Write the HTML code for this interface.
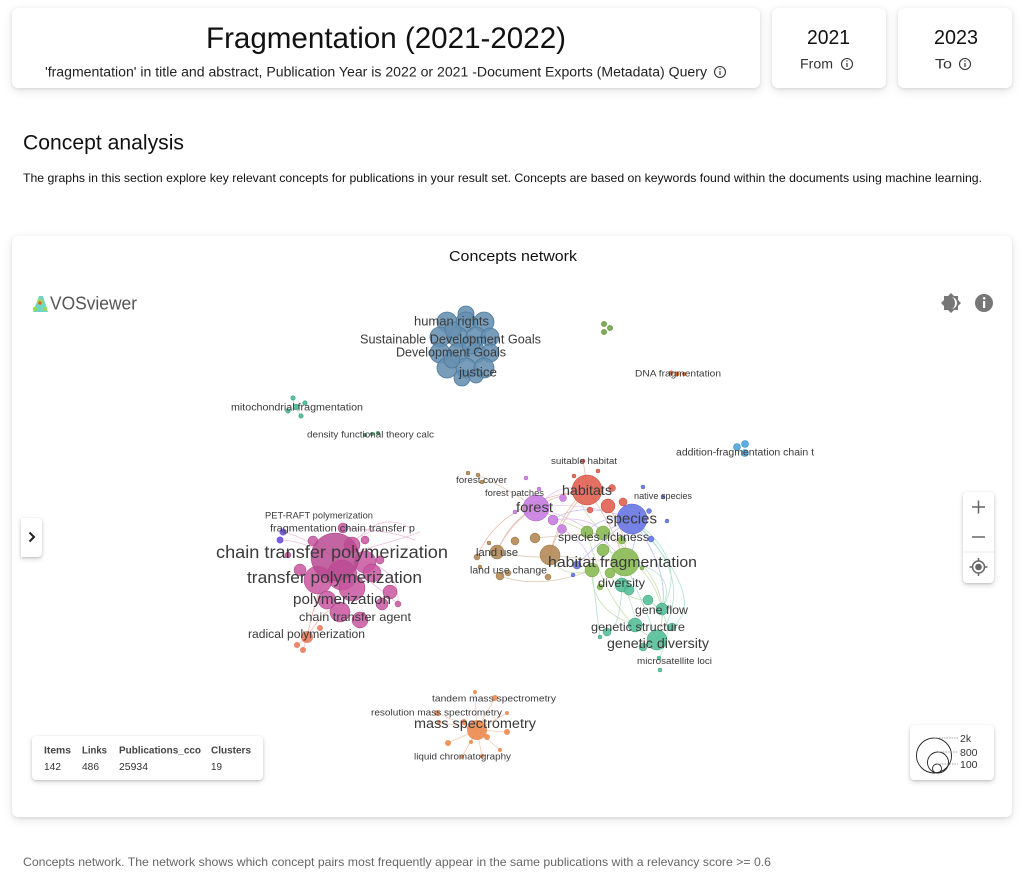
<!DOCTYPE html>
<html><head><meta charset="utf-8">
<style>
html,body{margin:0;padding:0;background:#fff;}
body{width:1024px;height:875px;position:relative;overflow:hidden;font-family:"Liberation Sans",Arial,sans-serif;}
.card{position:absolute;background:#fff;border-radius:6px;box-shadow:0 1px 3px rgba(0,0,0,0.10),0 3px 10px rgba(0,0,0,0.10);}
.box{position:absolute;background:#fff;border-radius:4px;box-shadow:0 1px 2px rgba(0,0,0,0.15),0 2px 6px rgba(0,0,0,0.15);}
svg{position:absolute;left:0;top:0;}
</style></head><body>
<div class="card" style="left:12px;top:8px;width:748px;height:80px;"></div>
<div class="card" style="left:772px;top:8px;width:114px;height:80px;"></div>
<div class="card" style="left:898px;top:8px;width:114px;height:80px;"></div>
<div class="card" style="left:12px;top:236px;width:1000px;height:581px;"></div>
<div class="box" style="left:21px;top:518px;width:21px;height:39px;border-radius:0 4px 4px 0;"></div>
<div class="box" style="left:963px;top:492px;width:31px;height:91px;"></div>
<div class="box" style="left:910px;top:725px;width:84px;height:55px;"></div>
<div class="box" style="left:32px;top:736px;width:231px;height:44px;"></div>

<svg width="1024" height="875" viewBox="0 0 1024 875" xmlns="http://www.w3.org/2000/svg" font-family="Liberation Sans, Arial, sans-serif">
<!-- Header text -->
<text x="206" y="48" font-size="30" fill="#111" textLength="360" lengthAdjust="spacingAndGlyphs">Fragmentation (2021-2022)</text>
<text x="45" y="76.5" font-size="13.5" fill="#222" textLength="662" lengthAdjust="spacingAndGlyphs">'fragmentation' in title and abstract, Publication Year is 2022 or 2021  -Document Exports (Metadata) Query</text>
<g stroke="#333" fill="none" stroke-width="1.1"><circle cx="720" cy="72" r="5.5"/><circle cx="847" cy="64" r="5.5"/><circle cx="965" cy="64" r="5.5"/></g>
<g stroke="#333" stroke-width="1.2"><line x1="720" y1="71" x2="720" y2="75"/><line x1="847" y1="63" x2="847" y2="67"/><line x1="965" y1="63" x2="965" y2="67"/></g>
<g fill="#333"><circle cx="720" cy="69" r="0.7"/><circle cx="847" cy="61" r="0.7"/><circle cx="965" cy="61" r="0.7"/></g>
<text x="807" y="44" font-size="20" fill="#111" textLength="43" lengthAdjust="spacingAndGlyphs">2021</text>
<text x="800" y="68.5" font-size="13.5" fill="#333" textLength="33" lengthAdjust="spacingAndGlyphs">From</text>
<text x="934" y="44" font-size="20" fill="#111" textLength="44" lengthAdjust="spacingAndGlyphs">2023</text>
<text x="935" y="68.5" font-size="13.5" fill="#333" textLength="17" lengthAdjust="spacingAndGlyphs">To</text>

<text x="23" y="149.5" font-size="21" fill="#111" textLength="161" lengthAdjust="spacingAndGlyphs">Concept analysis</text>
<text x="23" y="182" font-size="12" fill="#111" textLength="959" lengthAdjust="spacingAndGlyphs">The graphs in this section explore key relevant concepts for publications in your result set. Concepts are based on keywords found within the documents using machine learning.</text>

<text x="449" y="261" font-size="15" fill="#111" textLength="128" lengthAdjust="spacingAndGlyphs">Concepts network</text>

<!-- VOSviewer logo -->
<g>
<path d="M33,312 L39,296 L43,296 L48,312 Z" fill="#5fd0c0" opacity="0.9"/>
<circle cx="40" cy="302" r="3" fill="#a8d84a"/>
<circle cx="40" cy="303" r="1.6" fill="#e05a30"/>
<circle cx="35" cy="309" r="2.2" fill="#9ad850"/>
<circle cx="45" cy="309" r="2" fill="#9ad850"/>
</g>
<text x="50" y="309.5" font-size="18" fill="#555" textLength="87" lengthAdjust="spacingAndGlyphs">VOSviewer</text>

<!-- top right icons -->
<g fill="#777">
<polygon points="951,293 954,296 958,296 958,300 961,303 958,306 958,310 954,310 951,313 948,310 944,310 944,306 941,303 944,300 944,296 948,296"/>
</g>
<path d="M951,297 A6,6 0 0 1 951,309 A4,6 0 0 0 951,297 Z" fill="#fff"/>
<circle cx="984" cy="303" r="9" fill="#777"/>
<rect x="983" y="301" width="2.2" height="7" fill="#fff"/>
<circle cx="984.1" cy="298.3" r="1.3" fill="#fff"/>

<!-- chevron -->
<path d="M29.5,532.5 L34,537 L29.5,541.5" stroke="#222" stroke-width="2" fill="none"/>

<!-- zoom controls -->
<g stroke="#666" stroke-width="1.5">
<line x1="972" y1="507" x2="985" y2="507"/><line x1="978.5" y1="500.5" x2="978.5" y2="513.5"/>
<line x1="972" y1="537" x2="985" y2="537"/>
</g>
<line x1="963" y1="552" x2="994" y2="552" stroke="#eee" stroke-width="1"/>
<circle cx="978.5" cy="567" r="6" stroke="#666" stroke-width="1.5" fill="none"/>
<circle cx="978.5" cy="567" r="3.3" fill="#666"/>
<g stroke="#666" stroke-width="1.5"><line x1="978.5" y1="558" x2="978.5" y2="561"/><line x1="978.5" y1="573" x2="978.5" y2="576"/><line x1="969.5" y1="567" x2="972.5" y2="567"/><line x1="984.5" y1="567" x2="987.5" y2="567"/></g>

<!-- size legend -->
<g fill="none" stroke="#222" stroke-width="0.9">
<circle cx="934" cy="755.5" r="17.5"/>
<circle cx="938" cy="762.5" r="10.5"/>
<circle cx="937" cy="768.5" r="4.5"/>
</g>
<g stroke="#888" stroke-width="0.7" stroke-dasharray="1.5,1">
<line x1="934" y1="738" x2="958" y2="738"/>
<line x1="938" y1="752" x2="958" y2="752"/>
<line x1="937" y1="764" x2="958" y2="764"/>
</g>
<g font-size="10.5" fill="#333">
<text x="960" y="742">2k</text>
<text x="960" y="756">800</text>
<text x="960" y="768">100</text>
</g>

<!-- stats box -->
<g font-size="10" fill="#444" font-weight="bold">
<text x="44" y="753.5" textLength="27" lengthAdjust="spacingAndGlyphs">Items</text>
<text x="82" y="753.5" textLength="25" lengthAdjust="spacingAndGlyphs">Links</text>
<text x="119" y="753.5" textLength="82" lengthAdjust="spacingAndGlyphs">Publications_cco</text>
<text x="211" y="753.5" textLength="40" lengthAdjust="spacingAndGlyphs">Clusters</text>
</g>
<g font-size="10.5" fill="#333">
<text x="44" y="770" textLength="17" lengthAdjust="spacingAndGlyphs">142</text>
<text x="82" y="770" textLength="17" lengthAdjust="spacingAndGlyphs">486</text>
<text x="119" y="770" textLength="29" lengthAdjust="spacingAndGlyphs">25934</text>
<text x="211" y="770" textLength="11" lengthAdjust="spacingAndGlyphs">19</text>
</g>

<!-- caption -->
<text x="23" y="866" font-size="12" fill="#666" textLength="748" lengthAdjust="spacingAndGlyphs">Concepts network. The network shows which concept pairs most frequently appear in the same publications with a relevancy score &gt;= 0.6</text>

<!-- EDGES -->
<g fill="none" stroke-width="0.8" opacity="0.45">
<!-- central -->
<g stroke="#8cbc58">
<path d="M603,533 Q680,580 657,640"/><path d="M587,532 Q610,620 657,640"/><path d="M592,570 Q590,610 635,625"/>
<path d="M603,550 Q650,560 662,609"/><path d="M610,573 Q620,600 648,600"/><path d="M587,532 Q560,520 536,508"/>
<path d="M603,533 Q570,500 587,490"/><path d="M592,570 Q560,580 550,555"/>
</g>
<g stroke="#5cc0a0">
<path d="M632,519 Q700,580 657,640"/><path d="M625,562 Q680,570 662,609"/><path d="M632,519 Q690,560 662,609"/>
<path d="M625,562 Q650,620 657,640"/><path d="M603,533 Q640,620 635,625"/><path d="M622,585 Q620,630 607,632"/>
<path d="M632,519 Q710,600 672,627"/><path d="M648,600 Q680,620 659,658"/><path d="M592,570 Q600,640 600,637"/>
</g>
<g stroke="#6c7de0">
<path d="M632,519 Q615,525 603,533"/><path d="M632,519 Q600,515 587,532"/><path d="M632,519 Q640,545 625,562"/>
<path d="M632,519 Q670,570 662,609"/><path d="M632,519 Q600,540 577,565"/><path d="M632,519 Q580,500 553,520"/>
</g>
<g stroke="#c77de0">
<path d="M536,508 Q580,500 632,519"/><path d="M536,508 Q590,520 625,562"/><path d="M553,520 Q590,515 603,533"/>
<path d="M536,508 Q560,480 587,490"/><path d="M536,508 Q510,520 497,552"/><path d="M562,529 Q590,545 592,570"/>
</g>
<g stroke="#e06a55">
<path d="M587,490 Q560,520 550,555"/><path d="M587,490 Q520,500 497,552"/><path d="M587,490 Q610,520 625,562"/>
<path d="M587,490 Q585,470 583,461"/><path d="M587,490 Q500,500 477,557"/><path d="M608,506 Q630,540 625,562"/>
</g>
<g stroke="#b48a57">
<path d="M497,552 Q510,520 536,508"/><path d="M550,555 Q560,510 587,490"/><path d="M497,552 Q540,560 550,555"/>
<path d="M550,555 Q590,560 625,562"/><path d="M535,538 Q570,535 603,533"/><path d="M478,475 Q510,490 536,508"/>
<path d="M500,576 Q540,590 592,570"/>
</g>
<!-- pink -->
<g stroke="#d870b8">
<path d="M335,557 Q360,530 383,530"/><path d="M335,557 Q370,580 398,604"/><path d="M335,557 Q400,540 420,532"/>
<path d="M343,528 Q390,530 415,540"/><path d="M335,557 Q300,535 283,532"/><path d="M335,557 Q300,540 280,540"/>
<path d="M365,562 Q400,570 398,604"/><path d="M352,545 Q380,510 410,528"/>
</g>
<g stroke="#e87a5a">
<path d="M307,637 Q315,600 320,590"/><path d="M307,637 Q330,600 340,612"/><path d="M307,637 Q320,580 335,557"/>
<path d="M297,645 L307,637"/><path d="M303,650 L307,637"/>
</g>
<!-- mass spec -->
<g stroke="#ec8a4f">
<path d="M477,730 L448,743"/><path d="M477,730 L464,722"/><path d="M477,730 L495,698"/><path d="M477,730 L507,732"/>
<path d="M477,730 L487,737"/><path d="M477,730 L500,750"/><path d="M477,730 L482,756"/><path d="M477,730 L462,757"/>
<path d="M477,730 L475,692"/><path d="M477,730 L437,713"/><path d="M477,730 L439,722"/><path d="M477,730 L507,713"/>
<path d="M477,730 L471,742"/>
</g>
<g stroke="#5cc0a0"><path d="M295,407 L293,398"/><path d="M295,407 L305,403"/><path d="M295,407 L288,411"/><path d="M295,407 L301,416"/></g>
</g>

<!-- BUBBLES -->
<!-- blue SDG cluster -->
<g fill="#6590b0" fill-opacity="0.88" stroke="#4e7a99" stroke-width="0.8">
<circle cx="466" cy="314" r="8"/>
<circle cx="447" cy="322" r="10"/><circle cx="466" cy="322" r="10"/><circle cx="484" cy="322" r="10"/>
<circle cx="440" cy="337" r="10"/><circle cx="458" cy="337" r="10"/><circle cx="476" cy="337" r="10"/><circle cx="490" cy="337" r="9"/>
<circle cx="440" cy="353" r="10"/><circle cx="458" cy="353" r="10"/><circle cx="476" cy="353" r="10"/><circle cx="490" cy="353" r="9"/>
<circle cx="447" cy="368" r="10"/><circle cx="466" cy="368" r="10"/><circle cx="484" cy="368" r="10"/>
<circle cx="462" cy="378" r="8"/><circle cx="476" cy="376" r="7"/>
<circle cx="453" cy="330" r="8"/><circle cx="471" cy="345" r="9"/><circle cx="452" cy="360" r="8"/>
</g>
<!-- small isolated -->
<g fill="#5cc0a0" stroke="#3f9f80" stroke-width="0.6">
<circle cx="293" cy="398" r="2.2"/><circle cx="305" cy="403" r="2.2"/><circle cx="288" cy="411" r="2.2"/><circle cx="301" cy="416" r="2.2"/><circle cx="296" cy="407" r="2.8"/>
</g>
<g fill="#4f9a70"><circle cx="365" cy="435" r="2"/><circle cx="372" cy="434" r="2"/><circle cx="378" cy="433" r="2"/></g>
<g fill="#7fae55" stroke="#5d8a3a" stroke-width="0.6"><circle cx="604" cy="324" r="2.6"/><circle cx="604" cy="332" r="2.6"/><circle cx="610" cy="328" r="2.6"/></g>
<g fill="#c0704a"><circle cx="671" cy="373" r="2.5"/><circle cx="677" cy="374" r="2.5"/><circle cx="684" cy="374" r="2"/></g>
<g fill="#5aaee0" stroke="#3f8fc0" stroke-width="0.6"><circle cx="737" cy="447" r="3.5"/><circle cx="745" cy="444" r="3.5"/><circle cx="745" cy="453" r="3.5"/></g>

<!-- brown -->
<g fill="#b48a57" fill-opacity="0.9" stroke="#95703f" stroke-width="0.5">
<circle cx="550" cy="555" r="10"/><circle cx="497" cy="552" r="7"/><circle cx="535" cy="538" r="5"/><circle cx="515" cy="541" r="4"/>
<circle cx="477" cy="557" r="3"/><circle cx="500" cy="576" r="4"/><circle cx="508" cy="573" r="3"/><circle cx="548" cy="577" r="3"/>
<circle cx="489" cy="543" r="2"/><circle cx="478" cy="475" r="2"/><circle cx="468" cy="473" r="2"/><circle cx="482" cy="482" r="2"/><circle cx="480" cy="567" r="2"/>
</g>
<!-- purple -->
<g fill="#c77de0" fill-opacity="0.9" stroke="#a85ec4" stroke-width="0.5">
<circle cx="536" cy="508" r="13"/><circle cx="553" cy="520" r="5"/><circle cx="562" cy="529" r="4.5"/><circle cx="563" cy="498" r="3.5"/>
<circle cx="526" cy="478" r="2"/><circle cx="539" cy="489" r="2"/><circle cx="515" cy="512" r="2"/>
</g>
<!-- red -->
<g fill="#e06050" fill-opacity="0.9" stroke="#c04838" stroke-width="0.5">
<circle cx="587" cy="490" r="15"/><circle cx="608" cy="506" r="7"/><circle cx="623" cy="502" r="4"/><circle cx="612" cy="488" r="3.5"/>
<circle cx="590" cy="510" r="3"/><circle cx="574" cy="476" r="2"/><circle cx="598" cy="471" r="2"/><circle cx="583" cy="461" r="2"/>
</g>
<!-- blue species -->
<g fill="#6a78e2" fill-opacity="0.92" stroke="#5060c8" stroke-width="0.5">
<circle cx="632" cy="519" r="15"/><circle cx="649" cy="511" r="2.5"/><circle cx="667" cy="521" r="2"/><circle cx="651" cy="539" r="3"/>
<circle cx="663" cy="497" r="2"/><circle cx="643" cy="487" r="2"/><circle cx="577" cy="565" r="4"/><circle cx="573" cy="575" r="2"/>
</g>
<!-- teal -->
<g fill="#55bf98" fill-opacity="0.9" stroke="#3fa07c" stroke-width="0.5">
<circle cx="622" cy="585" r="7"/><circle cx="629" cy="590" r="5"/><circle cx="648" cy="600" r="5"/><circle cx="662" cy="609" r="6"/>
<circle cx="635" cy="625" r="7"/><circle cx="657" cy="640" r="10"/><circle cx="607" cy="632" r="4"/><circle cx="672" cy="627" r="4"/>
<circle cx="643" cy="647" r="4"/><circle cx="600" cy="637" r="2"/><circle cx="660" cy="670" r="2"/><circle cx="659" cy="658" r="2"/>
</g>
<!-- green -->
<g fill="#8cbc58" fill-opacity="0.92" stroke="#6f9c3f" stroke-width="0.5">
<circle cx="625" cy="562" r="14"/><circle cx="603" cy="533" r="7"/><circle cx="587" cy="532" r="6"/><circle cx="603" cy="550" r="6"/>
<circle cx="592" cy="570" r="7"/><circle cx="610" cy="573" r="5"/><circle cx="622" cy="540" r="4"/><circle cx="600" cy="587" r="3"/><circle cx="642" cy="568" r="2"/>
</g>

<!-- pink -->
<g fill="#c955a0" fill-opacity="0.85" stroke="#a3407f" stroke-width="0.5">
<circle cx="342" cy="575" r="15"/><circle cx="318" cy="580" r="14"/><circle cx="352" cy="588" r="13"/><circle cx="340" cy="612" r="10"/>
<circle cx="360" cy="620" r="8"/><circle cx="365" cy="562" r="11"/><circle cx="372" cy="573" r="9"/><circle cx="390" cy="592" r="7"/>
<circle cx="382" cy="604" r="6"/><circle cx="398" cy="604" r="3"/><circle cx="313" cy="541" r="5"/><circle cx="343" cy="528" r="5"/>
<circle cx="365" cy="540" r="4"/><circle cx="300" cy="570" r="6"/><circle cx="327" cy="600" r="9"/><circle cx="288" cy="555" r="3"/>
<circle cx="352" cy="545" r="8"/><circle cx="380" cy="560" r="4"/>
<circle cx="335" cy="557" r="24" fill="#b84a92"/>
</g>
<g fill="#7a5fe0"><circle cx="283" cy="532" r="3.5"/><circle cx="280" cy="540" r="3.5"/></g>
<g fill="#ea7a5a" fill-opacity="0.9"><circle cx="307" cy="637" r="6"/><circle cx="297" cy="645" r="3"/><circle cx="303" cy="650" r="3"/><circle cx="320" cy="628" r="3"/></g>

<!-- orange mass spec -->
<g fill="#ec8a4f" fill-opacity="0.9">
<circle cx="477" cy="730" r="10"/><circle cx="448" cy="743" r="3"/><circle cx="464" cy="722" r="3"/><circle cx="495" cy="698" r="3"/>
<circle cx="507" cy="732" r="3"/><circle cx="487" cy="737" r="3"/><circle cx="500" cy="750" r="2"/><circle cx="482" cy="756" r="2"/>
<circle cx="462" cy="757" r="2"/><circle cx="475" cy="692" r="2"/><circle cx="437" cy="713" r="3"/><circle cx="439" cy="722" r="2"/>
<circle cx="507" cy="713" r="2"/><circle cx="471" cy="742" r="2"/>
</g>

<!-- LABELS -->
<g fill="#3a3a3a" lengthAdjust="spacingAndGlyphs">
<text x="414" y="325.5" font-size="13" textLength="75" lengthAdjust="spacingAndGlyphs">human rights</text>
<text x="360" y="343.5" font-size="13" textLength="181" lengthAdjust="spacingAndGlyphs">Sustainable Development Goals</text>
<text x="396" y="356.5" font-size="13" textLength="110" lengthAdjust="spacingAndGlyphs">Development Goals</text>
<text x="459" y="376.5" font-size="13" textLength="38" lengthAdjust="spacingAndGlyphs">justice</text>
<text x="231" y="410.5" font-size="10" textLength="132" lengthAdjust="spacingAndGlyphs">mitochondrial fragmentation</text>
<text x="307" y="437.3" font-size="9.5" textLength="127" lengthAdjust="spacingAndGlyphs">density functional theory calc</text>
<text x="635" y="376.3" font-size="9.5" textLength="86" lengthAdjust="spacingAndGlyphs">DNA fragmentation</text>
<text x="676" y="455.5" font-size="10" textLength="138" lengthAdjust="spacingAndGlyphs">addition-fragmentation chain t</text>
<text x="551" y="464" font-size="9" textLength="66" lengthAdjust="spacingAndGlyphs">suitable habitat</text>
<text x="456" y="483" font-size="9" textLength="51" lengthAdjust="spacingAndGlyphs">forest cover</text>
<text x="485" y="496" font-size="9" textLength="59" lengthAdjust="spacingAndGlyphs">forest patches</text>
<text x="634" y="499" font-size="9" textLength="58" lengthAdjust="spacingAndGlyphs">native species</text>
<text x="562" y="495" font-size="14" textLength="50" lengthAdjust="spacingAndGlyphs">habitats</text>
<text x="516" y="512" font-size="14" textLength="37" lengthAdjust="spacingAndGlyphs">forest</text>
<text x="606" y="523.5" font-size="15" textLength="51" lengthAdjust="spacingAndGlyphs">species</text>
<text x="558" y="541" font-size="12" textLength="91" lengthAdjust="spacingAndGlyphs">species richness</text>
<text x="476" y="556" font-size="11" textLength="42" lengthAdjust="spacingAndGlyphs">land use</text>
<text x="470" y="573.5" font-size="10" textLength="77" lengthAdjust="spacingAndGlyphs">land use change</text>
<text x="548" y="567" font-size="15" textLength="149" lengthAdjust="spacingAndGlyphs">habitat fragmentation</text>
<text x="598" y="587" font-size="12" textLength="47" lengthAdjust="spacingAndGlyphs">diversity</text>
<text x="635" y="614" font-size="12" textLength="53" lengthAdjust="spacingAndGlyphs">gene flow</text>
<text x="591" y="631" font-size="12" textLength="94" lengthAdjust="spacingAndGlyphs">genetic structure</text>
<text x="607" y="648" font-size="14" textLength="102" lengthAdjust="spacingAndGlyphs">genetic diversity</text>
<text x="637" y="664" font-size="9" textLength="75" lengthAdjust="spacingAndGlyphs">microsatellite loci</text>
<text x="265" y="518.3" font-size="9.5" textLength="108" lengthAdjust="spacingAndGlyphs">PET-RAFT polymerization</text>
<text x="270" y="531.7" font-size="10.5" textLength="145" lengthAdjust="spacingAndGlyphs">fragmentation chain transfer p</text>
<text x="216" y="558" font-size="17.5" textLength="232" lengthAdjust="spacingAndGlyphs">chain transfer polymerization</text>
<text x="247" y="583" font-size="17" textLength="175" lengthAdjust="spacingAndGlyphs">transfer polymerization</text>
<text x="293" y="604" font-size="15" textLength="98" lengthAdjust="spacingAndGlyphs">polymerization</text>
<text x="299" y="621" font-size="12" textLength="112" lengthAdjust="spacingAndGlyphs">chain transfer agent</text>
<text x="248" y="638" font-size="11.5" textLength="117" lengthAdjust="spacingAndGlyphs">radical polymerization</text>
<text x="432" y="701.3" font-size="9.5" textLength="124" lengthAdjust="spacingAndGlyphs">tandem mass spectrometry</text>
<text x="371" y="715.3" font-size="9.5" textLength="131" lengthAdjust="spacingAndGlyphs">resolution mass spectrometry</text>
<text x="414" y="728" font-size="13.5" textLength="122" lengthAdjust="spacingAndGlyphs">mass spectrometry</text>
<text x="414" y="759.3" font-size="9.5" textLength="97" lengthAdjust="spacingAndGlyphs">liquid chromatography</text>
</g>
</svg>
</body></html>
